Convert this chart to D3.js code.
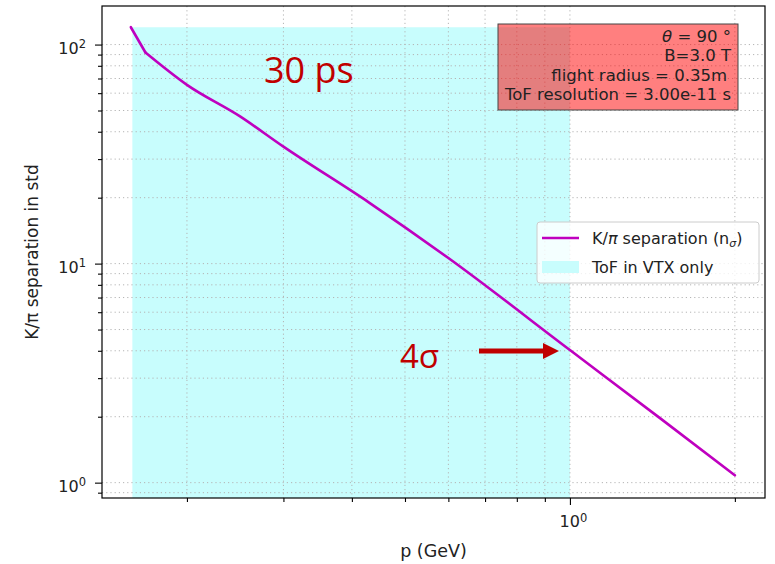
<!DOCTYPE html>
<html>
<head>
<meta charset="utf-8">
<script src="https://cdn.jsdelivr.net/npm/d3@7"></script>
<style>
  body { margin: 0; background: #fff; }
  svg { font-family: "DejaVu Sans", sans-serif; }
</style>
</head>
<body>
<svg width="775" height="564"></svg>
<script>
// momentum (GeV) and K/pi separation
var momentum   = [0.158, 0.168, 0.2,  0.25, 0.3,  0.43, 0.6,  1.0,  1.46, 2.0];
var separation = [120,   92,    65.5, 47.0, 34.2, 19.0, 10.6, 4.03, 1.97, 1.08];

// ToF-in-VTX shaded band
var bandP = [0.159, 1.0];
var bandTop = 120;

var xMajor = [1];
var xMinor = [0.2, 0.3, 0.4, 0.5, 0.6, 0.7, 0.8, 0.9, 2];
var yMajor = [1, 10, 100];
var yMinor = [0.9, 2, 3, 4, 5, 6, 7, 8, 9, 20, 30, 40, 50, 60, 70, 80, 90];

var infoLines = ["θ = 90 °", "B=3.0 T", "flight radius = 0.35m", "ToF resolution = 3.00e-11 s"];

var svg = d3.select("svg");
var plotL = 102, plotR = 765, plotT = 6, plotB = 498;

var x = d3.scaleLog().domain([0.13996, 2.270]).range([plotL, plotR]);
var y = d3.scaleLog().domain([0.851, 150]).range([plotB, plotT]);

// shaded band
svg.append("path")
  .datum(bandP)
  .attr("d", d3.area()
    .x(function(d) { return x(d); })
    .y0(plotB)
    .y1(function() { return y(bandTop); }))
  .attr("fill", "#c8fdfd");

// grid (dotted, major and minor)
var grid = svg.append("g").attr("class", "grid");
grid.selectAll("line.gx")
  .data(xMajor.concat(xMinor))
  .enter().append("line")
  .attr("x1", function(d) { return x(d); })
  .attr("x2", function(d) { return x(d); })
  .attr("y1", plotT).attr("y2", plotB);
grid.selectAll("line.gy")
  .data(yMajor.concat(yMinor))
  .enter().append("line")
  .attr("y1", function(d) { return y(d); })
  .attr("y2", function(d) { return y(d); })
  .attr("x1", plotL).attr("x2", plotR);
grid.selectAll("line")
  .attr("stroke", "#b4b4b4")
  .attr("stroke-width", 1)
  .attr("stroke-dasharray", "1.2,3");

// the curve: straight first segment, smooth after the kink
var line = d3.line()
  .x(function(d) { return x(d[0]); })
  .y(function(d) { return y(d[1]); });
var pts = momentum.map(function(p, i) { return [p, separation[i]]; });

svg.append("path")
  .datum(pts.slice(0, 2))
  .attr("d", line)
  .attr("fill", "none")
  .attr("stroke", "#bf00bf")
  .attr("stroke-width", 2.6)
  .attr("stroke-linecap", "round");
svg.append("path")
  .datum(pts.slice(1))
  .attr("d", line.curve(d3.curveMonotoneX))
  .attr("fill", "none")
  .attr("stroke", "#bf00bf")
  .attr("stroke-width", 2.6)
  .attr("stroke-linecap", "round");

// frame
svg.append("rect")
  .attr("x", plotL).attr("y", plotT)
  .attr("width", plotR - plotL).attr("height", plotB - plotT)
  .attr("fill", "none")
  .attr("stroke", "#000")
  .attr("stroke-width", 1.2);

// axes
function styleAxis(g) {
  g.select(".domain").remove();
  g.selectAll(".tick line").attr("stroke", "#000").attr("stroke-width", 1.1);
}
var sup = {0: "0", 1: "1", 2: "2"};
function powerLabel(g) {
  g.selectAll(".tick text").each(function(d) {
    var t = d3.select(this).text("");
    t.append("tspan").text("10");
    t.append("tspan")
      .attr("dy", "-0.5em")
      .attr("font-size", "11.5px")
      .text(sup[Math.round(Math.log10(d))]);
  });
}

svg.append("g")
  .attr("transform", "translate(0," + plotB + ")")
  .call(d3.axisBottom(x).tickValues(xMinor).tickSize(4).tickFormat(""))
  .call(styleAxis);
svg.append("g")
  .attr("transform", "translate(0," + plotB + ")")
  .call(d3.axisBottom(x).tickValues(xMajor).tickSize(7).tickPadding(11))
  .call(styleAxis)
  .call(function(g) {
    g.selectAll(".tick text").attr("font-size", "16px").attr("fill", "#222")
      .attr("font-family", "DejaVu Sans").attr("dx", "3px");
  })
  .call(powerLabel);

svg.append("g")
  .attr("transform", "translate(" + plotL + ",0)")
  .call(d3.axisLeft(y).tickValues(yMinor).tickSize(4).tickFormat(""))
  .call(styleAxis);
svg.append("g")
  .attr("transform", "translate(" + plotL + ",0)")
  .call(d3.axisLeft(y).tickValues(yMajor).tickSize(7).tickPadding(9))
  .call(styleAxis)
  .call(function(g) {
    g.selectAll(".tick text").attr("font-size", "16px").attr("fill", "#222")
      .attr("font-family", "DejaVu Sans").attr("dy", "0.55em");
  })
  .call(powerLabel);

// axis titles
svg.append("text")
  .attr("x", (plotL + plotR) / 2)
  .attr("y", 557)
  .attr("text-anchor", "middle")
  .attr("font-size", "17.5px")
  .attr("fill", "#222")
  .text("p (GeV)");

svg.append("text")
  .attr("transform", "translate(38," + (plotT + plotB) / 2 + ") rotate(-90)")
  .attr("text-anchor", "middle")
  .attr("font-size", "17px")
  .attr("fill", "#222")
  .text("K/π separation in std");

// info box
svg.append("rect")
  .attr("x", 498).attr("y", 24)
  .attr("width", 240).attr("height", 86)
  .attr("fill", "red")
  .attr("fill-opacity", 0.5)
  .attr("stroke", "#444")
  .attr("stroke-width", 1);

svg.append("g").selectAll("text")
  .data(infoLines)
  .enter().append("text")
  .attr("x", function(d, i) { return i == 2 ? 727 : 731; })
  .attr("y", function(d, i) { return 42 + i * 19.4; })
  .attr("text-anchor", "end")
  .attr("font-size", "16.5px")
  .attr("fill", "#222")
  .each(function(d, i) {
    var t = d3.select(this);
    if (i == 0) {
      t.append("tspan").attr("font-style", "italic").text("θ");
      t.append("tspan").text(" = 90 °");
    } else {
      t.text(d);
    }
  });

// legend
var legend = svg.append("g");
legend.append("rect")
  .attr("x", 537).attr("y", 222)
  .attr("width", 222).attr("height", 61)
  .attr("rx", 3)
  .attr("fill", "#fff")
  .attr("fill-opacity", 0.8)
  .attr("stroke", "#cccccc");
legend.append("line")
  .attr("x1", 542).attr("x2", 579)
  .attr("y1", 238).attr("y2", 238)
  .attr("stroke", "#bf00bf")
  .attr("stroke-width", 2.6);
legend.append("rect")
  .attr("x", 542).attr("y", 261)
  .attr("width", 37).attr("height", 12)
  .attr("fill", "#c8fdfd");
var lt = legend.append("text")
  .attr("x", 592).attr("y", 244)
  .attr("font-size", "16px")
  .attr("fill", "#222");
lt.append("tspan").text("K/");
lt.append("tspan").attr("font-style", "italic").text("π");
lt.append("tspan").text(" separation (n");
lt.append("tspan").attr("font-size", "11px").attr("font-style", "italic").attr("dy", "3").text("σ");
lt.append("tspan").attr("dy", "-3").text(")");
legend.append("text")
  .attr("x", 592).attr("y", 273)
  .attr("font-size", "16px")
  .attr("fill", "#222")
  .text("ToF in VTX only");

// slide annotations
svg.append("text")
  .attr("x", 264).attr("y", 83)
  .attr("font-family", "'Open Sans', 'Noto Sans', sans-serif")
  .attr("font-size", "36px")
  .attr("fill", "#c00000")
  .text("30 ps");

svg.append("text")
  .attr("x", 400).attr("y", 368)
  .attr("font-family", "'Open Sans', 'Noto Sans', sans-serif")
  .attr("font-size", "33px")
  .attr("fill", "#c00000")
  .text("4σ");

svg.append("line")
  .attr("x1", 479).attr("x2", 545)
  .attr("y1", 351).attr("y2", 351)
  .attr("stroke", "#c00000")
  .attr("stroke-width", 5);
svg.append("path")
  .attr("d", "M543,343 L559,351 L543,359 Z")
  .attr("fill", "#c00000");
</script>
</body>
</html>
